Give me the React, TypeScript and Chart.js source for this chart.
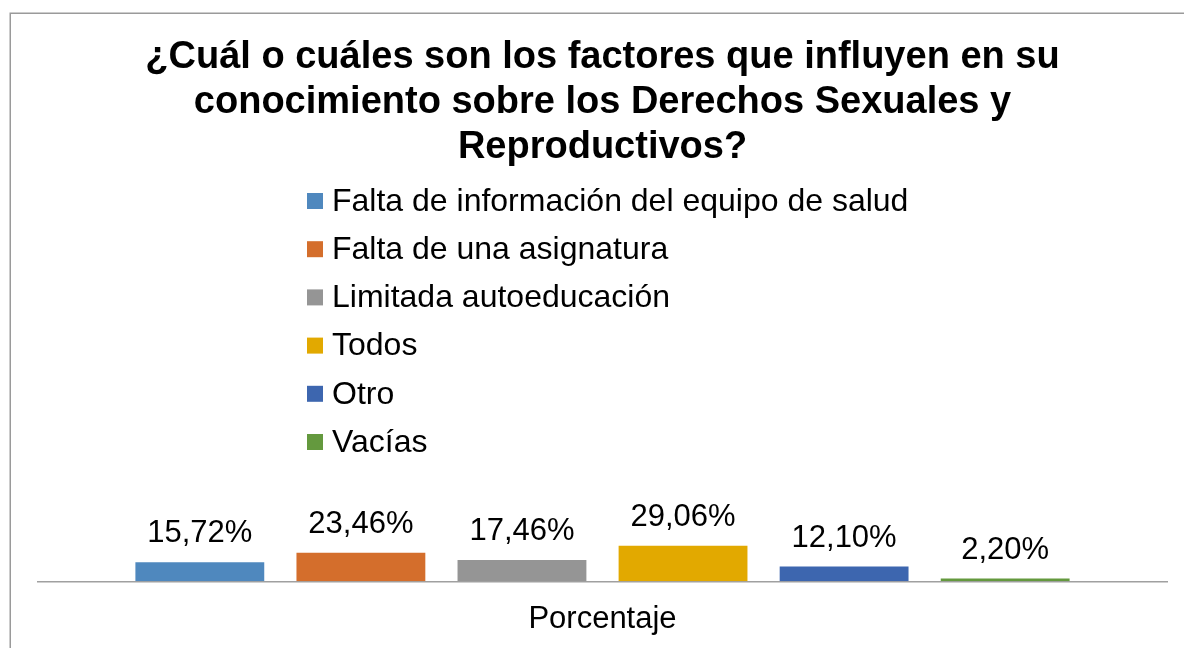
import React, { useEffect, useRef } from 'react';
import { Chart, registerables } from 'chart.js';

Chart.register(...registerables);

const categories = ['Porcentaje'];
const seriesNames = [
  'Falta de información del equipo de salud',
  'Falta de una asignatura',
  'Limitada autoeducación',
  'Todos',
  'Otro',
  'Vacías',
];
const seriesValues = [15.72, 23.46, 17.46, 29.06, 12.1, 2.2];
const seriesColors = ['#4F88BE', '#D46E2C', '#959595', '#E2A900', '#3D66AF', '#64993E'];
const titleLines = [
  '¿Cuál o cuáles son los factores que influyen en su',
  'conocimiento sobre los Derechos Sexuales y',
  'Reproductivos?',
];

const FONT = "'Liberation Sans', Arial, sans-serif";

const fmt = (v: number) => v.toFixed(2).replace('.', ',') + '%';

const framePlugin = {
  id: 'frame',
  beforeDraw(chart: any) {
    const ctx = chart.ctx;
    ctx.save();
    ctx.fillStyle = '#ffffff';
    ctx.fillRect(0, 0, chart.width, chart.height);
    ctx.strokeStyle = '#9a9a9a';
    ctx.lineWidth = 1.5;
    ctx.strokeRect(10.25, 13.25, chart.width + 40, chart.height + 40);
    ctx.restore();
  },
};

const legendPlugin = {
  id: 'vlegend',
  afterDraw(chart: any) {
    const ctx = chart.ctx;
    ctx.save();
    ctx.font = `32px ${FONT}`;
    ctx.textBaseline = 'middle';
    ctx.textAlign = 'left';
    chart.data.datasets.forEach((ds: any, i: number) => {
      const cy = 201 + i * 48.2;
      ctx.fillStyle = ds.backgroundColor;
      ctx.fillRect(307, cy - 8, 16, 16);
      ctx.fillStyle = '#000000';
      ctx.fillText(ds.label, 332, cy + 1);
    });
    ctx.restore();
  },
};

const valueLabelPlugin = {
  id: 'valueLabels',
  afterDatasetsDraw(chart: any) {
    const ctx = chart.ctx;
    ctx.save();
    ctx.font = `31px ${FONT}`;
    ctx.textAlign = 'center';
    ctx.textBaseline = 'alphabetic';
    ctx.fillStyle = '#000000';
    chart.data.datasets.forEach((ds: any, i: number) => {
      const meta = chart.getDatasetMeta(i);
      meta.data.forEach((el: any, j: number) => {
        ctx.fillText(fmt(ds.data[j]), el.x, el.y - 20);
      });
    });
    ctx.restore();
  },
};

export default function App() {
  const ref = useRef<HTMLCanvasElement | null>(null);

  useEffect(() => {
    if (!ref.current) return;
    const chart = new Chart(ref.current, {
      type: 'bar',
      data: {
        labels: categories,
        datasets: seriesNames.map((name, i) => ({
          label: name,
          data: [seriesValues[i]],
          backgroundColor: seriesColors[i],
          borderWidth: 0,
          categoryPercentage: 0.856,
          barPercentage: 0.8,
        })),
      },
      options: {
        animation: false,
        responsive: true,
        maintainAspectRatio: false,
        layout: { padding: { left: 38, right: 17, top: 0, bottom: -9.5 } },
        plugins: {
          legend: { display: false },
          tooltip: { enabled: false },
          title: {
            display: true,
            text: titleLines,
            color: '#000000',
            font: { family: FONT, size: 38, weight: 'bold', lineHeight: 1.18 },
            padding: { top: 35, bottom: 363 },
          },
        },
        scales: {
          x: {
            grid: { display: false, drawTicks: false },
            border: { display: true, color: '#a0a0a0', width: 1.5 },
            ticks: { color: '#000000', font: { family: FONT, size: 31 }, padding: 19.5 },
          },
          y: {
            display: false,
            min: 0,
            max: 40,
          },
        },
      },
      plugins: [framePlugin, legendPlugin, valueLabelPlugin],
    });
    return () => chart.destroy();
  }, []);

  return (
    <div style={{ position: 'fixed', left: 0, top: 0, width: 1184, height: 648 }}>
      <canvas ref={ref} />
    </div>
  );
}
